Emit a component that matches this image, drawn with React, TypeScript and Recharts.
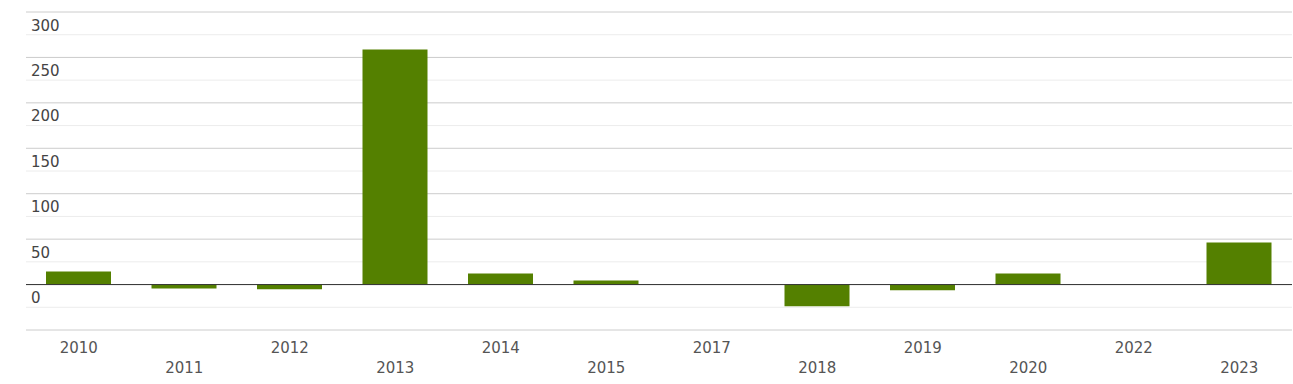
import React from 'react';
import { BarChart, Bar, XAxis, YAxis, ReferenceLine, CartesianGrid } from 'recharts';

const years = ['2010', '2011', '2012', '2013', '2014', '2015', '2017', '2018', '2019', '2020', '2022', '2023'];
const values = [14.3, -4.4, -5.1, 258.6, 12.1, 4.4, 0, -23.8, -6.2, 12.1, 0, 46.2];

const majorTicks = [-50, 0, 50, 100, 150, 200, 250, 300];
const minorTicks = [-25, 25, 75, 125, 175, 225, 275];
const labelTicks = [0, 50, 100, 150, 200, 250, 300];

const data = years.map((year, i) => ({ year, value: values[i] }));

const FONT = '"DejaVu Sans", Verdana, sans-serif';

const YTick = (props: any) => {
  const { y, payload } = props;
  return (
    <text x={31} y={y + 18.5} fill="#444" fontSize={15} fontFamily={FONT} textAnchor="start">
      {payload.value}
    </text>
  );
};

const XTick = (props: any) => {
  const { x, y, payload, index } = props;
  const dy = index % 2 === 0 ? 23 : 43;
  return (
    <text x={x} y={y + dy} fill="#555" fontSize={15} fontFamily={FONT} textAnchor="middle">
      {payload.value}
    </text>
  );
};

export default function App() {
  return (
    <div style={{ position: 'absolute', left: 0, top: 0, background: '#fff' }}>
      <BarChart
        width={1293}
        height={384}
        data={data}
        margin={{ top: 12, right: 1, bottom: 0, left: 25 }}
      >
        <CartesianGrid vertical={false} horizontalValues={minorTicks} stroke="#ececec" />
        <CartesianGrid vertical={false} horizontalValues={majorTicks} stroke="#cccccc" />
        <XAxis
          dataKey="year"
          axisLine={false}
          tickLine={false}
          tickSize={0}
          tickMargin={0}
          interval={0}
          height={54}
          tick={<XTick />}
        />
        <YAxis
          domain={[-50, 300]}
          ticks={labelTicks}
          width={1}
          axisLine={false}
          tickLine={false}
          tickSize={0}
          tickMargin={0}
          allowDataOverflow
          tick={<YTick />}
        />
        <Bar dataKey="value" fill="#548000" barSize={65} isAnimationActive={false} />
        <ReferenceLine y={0} stroke="#333333" strokeWidth={1} />
      </BarChart>
    </div>
  );
}
